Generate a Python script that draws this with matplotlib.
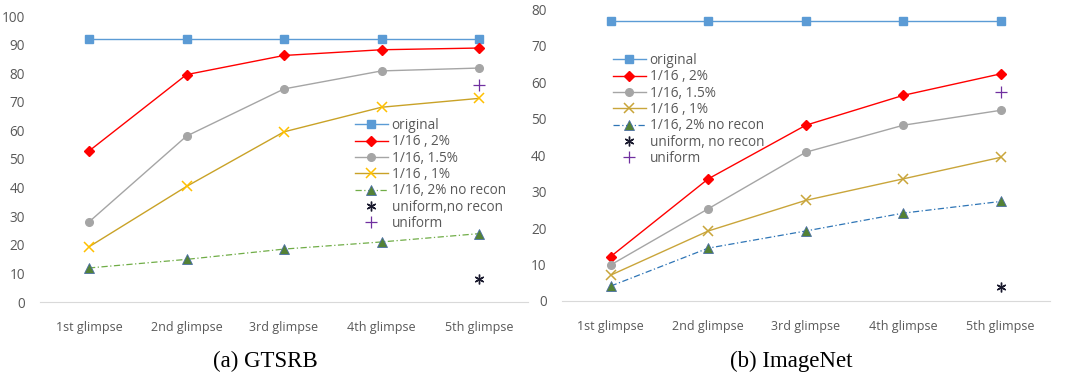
import matplotlib.pyplot as plt

glimpses = ['1st glimpse', '2nd glimpse', '3rd glimpse', '4th glimpse', '5th glimpse']

# GTSRB accuracy per glimpse
gtsrb_original = [92, 92, 92, 92, 92]
gtsrb_2pct = [52.8, 79.5, 86.2, 88.2, 88.8]
gtsrb_15pct = [28, 58, 74.5, 80.8, 81.8]
gtsrb_1pct = [19.3, 40.4, 59.5, 68.1, 71.2]
gtsrb_2pct_norecon = [11.9, 14.9, 18.5, 21, 23.9]
gtsrb_uniform_norecon = 8.1
gtsrb_uniform = 75.8

# ImageNet accuracy per glimpse
imnet_original = [76.8, 76.8, 76.8, 76.8, 76.8]
imnet_2pct = [12.2, 33.5, 48.2, 56.4, 62.3]
imnet_15pct = [9.9, 25.3, 40.8, 48.2, 52.3]
imnet_1pct = [7.1, 19.2, 27.6, 33.5, 39.4]
imnet_2pct_norecon = [4.1, 14.5, 19.2, 24.1, 27.3]
imnet_uniform_norecon = 3.8
imnet_uniform = 57.2

TXT = '#595959'
plt.rcParams['font.family'] = ['Open Sans', 'DejaVu Sans']

fig = plt.figure(figsize=(10.65, 3.73), dpi=100)
ax1 = fig.add_axes([40.25 / 1065, 1 - 302 / 373, 487.5 / 1065, (302 - 16) / 373])
ax2 = fig.add_axes([562 / 1065, 1 - 301 / 373, 487.5 / 1065, (301 - 9.3) / 373])


def draw(ax, orig, p2, p15, p1, norecon, uni_nr, uni, ymax, gold_line, gold_mk, nr_line, uni_nr_label):
    x = range(len(glimpses))
    ax.plot(x, orig, color='#5B9BD5', lw=1.0, marker='s', ms=6, label='original')
    ax.plot(x, p2, color='#FF0000', lw=1.0, marker='D', ms=5, label='1/16 , 2%')
    ax.plot(x, p15, color='#A5A5A5', lw=1.0, marker='o', ms=5.5, label='1/16, 1.5%')
    ax.plot(x, p1, color=gold_line, lw=1.0, marker='x', ms=7.5, mew=1.1,
            mec=gold_mk, label='1/16 , 1%')
    ax.plot(x, norecon, color=nr_line, lw=0.9, ls=(0, (5, 2, 1, 2)), marker='^', ms=6.5,
            mfc='#548235', mec='#4A6FA5', mew=0.6, label='1/16, 2% no recon')
    ax.plot([4], [uni_nr], ls='none', marker=(6, 2, 0), ms=7, mew=1.0, color='#1A1A2E',
            label=uni_nr_label)
    ax.plot([4], [uni], ls='none', marker='+', ms=8, mew=0.9, color='#7030A0', label='uniform')

    ax.set_xlim(-0.5, 4.5)
    ax.set_ylim(0, ymax)
    ax.set_yticks(range(0, ymax + 1, 10))
    ax.set_xticks(list(x))
    ax.set_xticklabels(glimpses)
    for s in ['top', 'right', 'left']:
        ax.spines[s].set_visible(False)
    ax.spines['bottom'].set_color('#D9D9D9')
    ax.tick_params(axis='both', length=0, colors=TXT, labelsize=9)
    ax.tick_params(axis='y', pad=11, labelsize=9.8)
    ax.tick_params(axis='x', pad=14)


draw(ax1, gtsrb_original, gtsrb_2pct, gtsrb_15pct, gtsrb_1pct, gtsrb_2pct_norecon,
     gtsrb_uniform_norecon, gtsrb_uniform, 100, '#C9A227', '#FFC000', '#70AD47',
     'uniform,no recon')
draw(ax2, imnet_original, imnet_2pct, imnet_15pct, imnet_1pct, imnet_2pct_norecon,
     imnet_uniform_norecon, imnet_uniform, 80, '#C9A53A', '#C9A53A', '#2E75B6',
     'uniform, no recon')

leg_kw = dict(frameon=False, fontsize=9.8, labelcolor=TXT, handlelength=2.4,
              handletextpad=0.3, labelspacing=0.1, borderpad=0, borderaxespad=0)
ax1.legend(loc='upper left', bbox_to_anchor=((355 - 40.25) / 487.5, (302 - 118) / 286),
           **leg_kw)
ax2.legend(loc='upper left', bbox_to_anchor=((613 - 562) / 487.5, (301 - 53) / 291.7),
           **leg_kw)

fig.text(265 / 1065, 1 - 361 / 373, '(a) GTSRB', ha='center', va='center',
         family='Liberation Serif', fontsize=16.5)
fig.text(791 / 1065, 1 - 361 / 373, '(b) ImageNet', ha='center', va='center',
         family='Liberation Serif', fontsize=16.5)

fig.savefig('out.png', dpi=100)
